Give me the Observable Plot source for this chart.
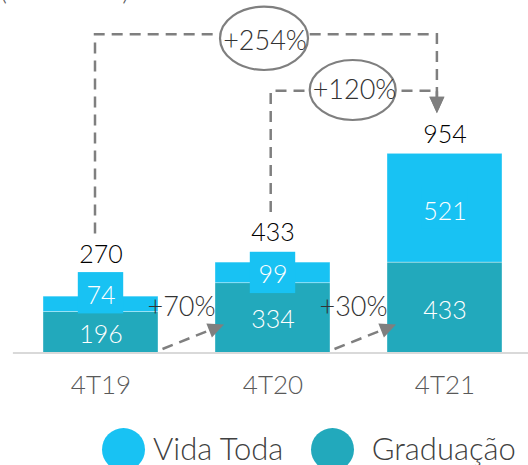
<!DOCTYPE html>
<html><head><meta charset="utf-8">
<script src="https://cdn.jsdelivr.net/npm/d3@7"></script>
<script src="https://cdn.jsdelivr.net/npm/@observablehq/plot@0.6"></script>
<style>
html,body{margin:0;padding:0;background:#fff;overflow:hidden;}
#wrap{position:relative;width:528px;height:465px;overflow:hidden;font-family:Lato,"Open Sans","Noto Sans",sans-serif;}
#unit{position:absolute;left:0;top:-25.4px;font-size:27px;line-height:30px;color:#595959;font-weight:300;white-space:nowrap;}
#legend{position:relative;height:55px;}
.li-dot{position:absolute;top:18px;width:43px;height:43px;border-radius:50%;}
.li-txt{position:absolute;top:21.6px;height:33px;line-height:33px;font-size:31px;color:#404040;font-weight:300;white-space:nowrap;}
</style></head>
<body><div id="wrap"><div id="unit">(mil alunos)</div><div id="chart"></div><div id="legend"></div></div>
<script>
// ---- data ----
const categories = ["4T19", "4T20", "4T21"];
const seriesNames = ["Vida Toda", "Graduação"];
const vidaToda = [74, 99, 521];
const graduacao = [196, 334, 433];
const totals = [270, 433, 954];
const growthFrom = ["4T19", "4T20", "4T19", "4T20"];
const growthTo = ["4T20", "4T21", "4T21", "4T21"];
const growthBasis = ["Graduação", "Graduação", "Total", "Total"];
const growthLabels = ["+70%", "+30%", "+254%", "+120%"];
const colors = ["#18C2F3", "#22A9BC"];

// ---- layout ----
const FONT = "Lato, 'Open Sans', 'Noto Sans', sans-serif";
const W = 528, H = 410, MT = 20, MB = 57.5, ML = 16.9, MR = 0, YMAX = 1592.4;
const K = (H - MB - MT) / YMAX;           // px per unit
const u = px => px / K;                    // px -> data units
const vidaTextDy = [-8, 2, 3.7];
const vidaBoxDy = [-11.1, 0, 0];
const gradTextDy = [2.3, 1.6, 3.5];
const totalDy = [-41.5, -29.2, -19];
const BOX_W = 45.5, BOX_H = 41.3, BAR_W = 115.1;
const STROKE = "#7f7f7f";
const annLayout = {
  "4T19>4T21": {level: 34.3, fromDx: -5.5, toDx: -7.6, ex: -8.5, ey: 4, rx: 44, ry: 31.7, tx: 1, ty: 2.7},
  "4T20>4T21": {level: 90.7, fromDx: -1.8, toDx: -7.6, ex: -5.8, ey: -0.7, rx: 43, ry: 30, tx: 1.8, ty: 0}
};

const long = categories.flatMap((c, i) => [
  {cat: c, series: seriesNames[1], value: graduacao[i]},
  {cat: c, series: seriesNames[0], value: vidaToda[i]}
]);
const rows = categories.map((c, i) => ({cat: c, i, vida: vidaToda[i], grad: graduacao[i], total: totals[i]}));

function annotationMark(index, scales) {
  const sx = scales.x, sy = scales.y;
  const bw = typeof sx.bandwidth === "function" ? sx.bandwidth() : BAR_W;
  const cx = c => sx(c) + bw / 2;
  const idx = c => categories.indexOf(c);
  const base = sy(0);
  const topOf = c => sy(totals[idx(c)]) + totalDy[idx(c)] - 21;
  const g = d3.create("svg:g");
  const txt = (x, y, s) => g.append("text").attr("x", x).attr("y", y).attr("dy", "0.35em")
    .attr("text-anchor", "middle").attr("font-family", FONT).attr("font-size", 27)
    .attr("font-weight", 300).attr("fill", "#333").text(s);
  const dashed = sel => sel.attr("fill", "none").attr("stroke", STROKE).attr("stroke-width", 2.5).attr("stroke-dasharray", "11 7");
  const ellipses = [];
  growthFrom.forEach((from, j) => {
    const to = growthTo[j], label = growthLabels[j];
    if (growthBasis[j] !== "Total") {
      const x0 = cx(from) + 62, y0 = base - 3.5;
      const x1 = cx(to) - 48.5, y1 = base - 28;
      const len = Math.hypot(x1 - x0, y1 - y0), ux = (x1 - x0) / len, uy = (y1 - y0) / len;
      const hl = 16, hw = 7.5, bx = x1 - ux * hl, by = y1 - uy * hl;
      dashed(g.append("path").attr("d", `M${x0},${y0}L${bx + ux},${by + uy}`));
      g.append("path").attr("d", `M${x1},${y1}L${bx - uy * hw},${by + ux * hw}L${bx + uy * hw},${by - ux * hw}Z`).attr("fill", STROKE);
      txt((cx(from) + cx(to)) / 2 - 5, base - 46.4, label);
    } else {
      const L = annLayout[from + ">" + to];
      const xa = cx(from) + L.fromDx, ya = topOf(from);
      const xb = cx(to) + L.toDx, tip = topOf(to);
      dashed(g.append("path").attr("d", `M${xa},${ya}V${L.level}H${xb}V${tip - 15}`));
      g.append("path").attr("d", `M${xb},${tip}L${xb - 7.5},${tip - 16.6}L${xb + 7.5},${tip - 16.6}Z`).attr("fill", STROKE);
      ellipses.push({x: (cx(from) + cx(to)) / 2 + L.ex, y: L.level + L.ey, L, label});
    }
  });
  ellipses.forEach(e => {
    g.append("ellipse").attr("cx", e.x).attr("cy", e.y).attr("rx", e.L.rx).attr("ry", e.L.ry)
      .attr("fill", "white").attr("stroke", STROKE).attr("stroke-width", 2.2);
    txt(e.x + e.L.tx, e.y + e.L.ty, e.label);
  });
  return g.node();
}

const chart = Plot.plot({
  width: W, height: H, marginTop: MT, marginBottom: MB, marginLeft: ML, marginRight: MR,
  style: {fontFamily: FONT, fontSize: "26px", fontWeight: 300, color: "#595959", background: "white", overflow: "visible"},
  x: {domain: categories, paddingInner: 1 / 3, paddingOuter: 0.1465, label: null, tickSize: 0, tickPadding: 23},
  y: {domain: [0, YMAX], axis: null},
  color: {domain: seriesNames, range: colors},
  marks: [
    Plot.barY(long, {x: "cat", y: "value", fill: "series", order: [seriesNames[1], seriesNames[0]], stroke: "white", strokeWidth: 0.6, strokeOpacity: 0.6}),
    Plot.ruleY([0], {stroke: "#d9d9d9", strokeWidth: 2, insetLeft: -4}),
    Plot.barY(rows, {x: "cat",
      y1: d => d.grad + d.vida / 2 - u(vidaBoxDy[d.i]) - u(BOX_H / 2),
      y2: d => d.grad + d.vida / 2 - u(vidaBoxDy[d.i]) + u(BOX_H / 2),
      fill: colors[0], insetLeft: (BAR_W - BOX_W) / 2, insetRight: (BAR_W - BOX_W) / 2}),
    Plot.text(rows, {x: "cat", y: d => d.grad + d.vida / 2 - u(vidaTextDy[d.i]), text: d => String(d.vida),
      fill: "white", fontSize: 25, fontWeight: 300}),
    Plot.text(rows, {x: "cat", y: d => d.grad / 2 - u(gradTextDy[d.i]), text: d => String(d.grad),
      fill: "white", fontSize: 25, fontWeight: 300}),
    Plot.text(rows, {x: "cat", y: d => d.total - u(totalDy[d.i]), text: d => String(d.total),
      fill: "#000", fontSize: 25, fontWeight: 300}),
    annotationMark
  ]
});
document.getElementById("chart").appendChild(chart);

// legend
const legend = d3.select("#legend");
const dotLeft = [101.7, 310.7], txtLeft = [153, 371.7];
seriesNames.forEach((s, i) => {
  legend.append("div").attr("class", "li-dot").style("left", dotLeft[i] + "px").style("background", colors[i]);
  legend.append("div").attr("class", "li-txt").style("left", txtLeft[i] + "px").text(s);
});
</script></body></html>
